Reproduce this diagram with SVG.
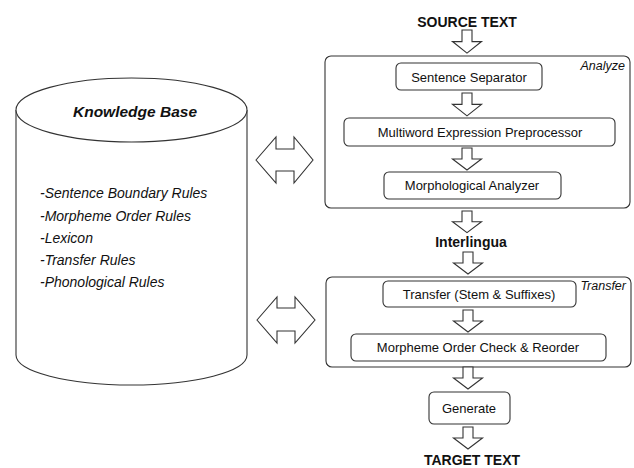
<svg xmlns="http://www.w3.org/2000/svg" width="634" height="468" viewBox="0 0 634 468">
<style>
.s{fill:#fff;stroke:#333;stroke-width:1.1}
.t{font-family:"Liberation Sans",Arial,sans-serif;fill:#111}
.box{font-size:13px;text-anchor:middle}
.big{font-size:14px;font-weight:bold;text-anchor:middle}
.lab{font-size:12.5px;font-style:italic;text-anchor:end}
.li{font-size:14px;font-style:italic}
</style>
<defs>
<path id="da" d="M-5,0 H5 V11 H14.5 L0,22 L-14.5,11 H-5 Z"/>
</defs>
<rect width="634" height="468" fill="#fff"/>
<g id="knowledge-base">
<path class="s" d="M16,110 V355 A115.5,30 0 0 0 247,355 V110"/>
<ellipse class="s" cx="131.5" cy="110" rx="115.5" ry="32"/>
<text class="t" x="135" y="117" font-size="15.5" font-weight="bold" font-style="italic" text-anchor="middle">Knowledge Base</text>
<text class="t li" x="40" y="198">-Sentence Boundary Rules</text>
<text class="t li" x="40" y="221">-Morpheme Order Rules</text>
<text class="t li" x="40" y="243">-Lexicon</text>
<text class="t li" x="40" y="265">-Transfer Rules</text>
<text class="t li" x="40" y="287">-Phonological Rules</text>
</g>
<g id="analyze">
<rect class="s" x="325" y="56" width="305" height="152" rx="6"/>
<text class="t lab" x="625" y="70">Analyze</text>
</g>
<g id="sentence-separator">
<rect class="s" x="396" y="63" width="146" height="27" rx="5"/>
<text class="t box" x="469" y="82">Sentence Separator</text>
</g>
<g id="multiword">
<rect class="s" x="344" y="118" width="271" height="28" rx="5"/>
<text class="t box" x="480" y="137">Multiword Expression Preprocessor</text>
</g>
<g id="morphological-analyzer">
<rect class="s" x="384" y="172" width="177" height="27" rx="5"/>
<text class="t box" x="472" y="190">Morphological Analyzer</text>
</g>
<g id="transfer">
<rect class="s" x="326" y="277" width="305" height="90" rx="6"/>
<text class="t lab" x="626" y="290">Transfer</text>
</g>
<g id="transfer-stem">
<rect class="s" x="383" y="281" width="193" height="26" rx="5"/>
<text class="t box" x="479" y="299">Transfer (Stem &amp; Suffixes)</text>
</g>
<g id="morpheme-order">
<rect class="s" x="351" y="334" width="255" height="27" rx="5"/>
<text class="t box" x="478" y="352">Morpheme Order Check &amp; Reorder</text>
</g>
<g id="generate">
<rect class="s" x="429" y="392" width="81" height="32" rx="5"/>
<text class="t box" x="469" y="413">Generate</text>
</g>
<g id="labels">
<text class="t big" x="467" y="27">SOURCE TEXT</text>
<text class="t big" x="471" y="247">Interlingua</text>
<text class="t big" x="472" y="465">TARGET TEXT</text>
</g>
<g id="connectors">
<use href="#da" class="s" transform="translate(467,30) scale(1,1.05)"/>
<use href="#da" class="s" transform="translate(467,93) scale(1,1.04)"/>
<use href="#da" class="s" transform="translate(467,148)"/>
<use href="#da" class="s" transform="translate(467,211) scale(1,0.98)"/>
<use href="#da" class="s" transform="translate(468,252)"/>
<use href="#da" class="s" transform="translate(468,310)"/>
<use href="#da" class="s" transform="translate(468,367)"/>
<use href="#da" class="s" transform="translate(468,427)"/>
<path class="s" d="M256,160 L276,137 V149 H294 V137 L313,160 L294,183 V171 H276 V183 Z"/>
<path class="s" d="M257,320 L277,297 V308 H295 V297 L315,320 L295,343 V331 H277 V343 Z"/>
</g>
</svg>
